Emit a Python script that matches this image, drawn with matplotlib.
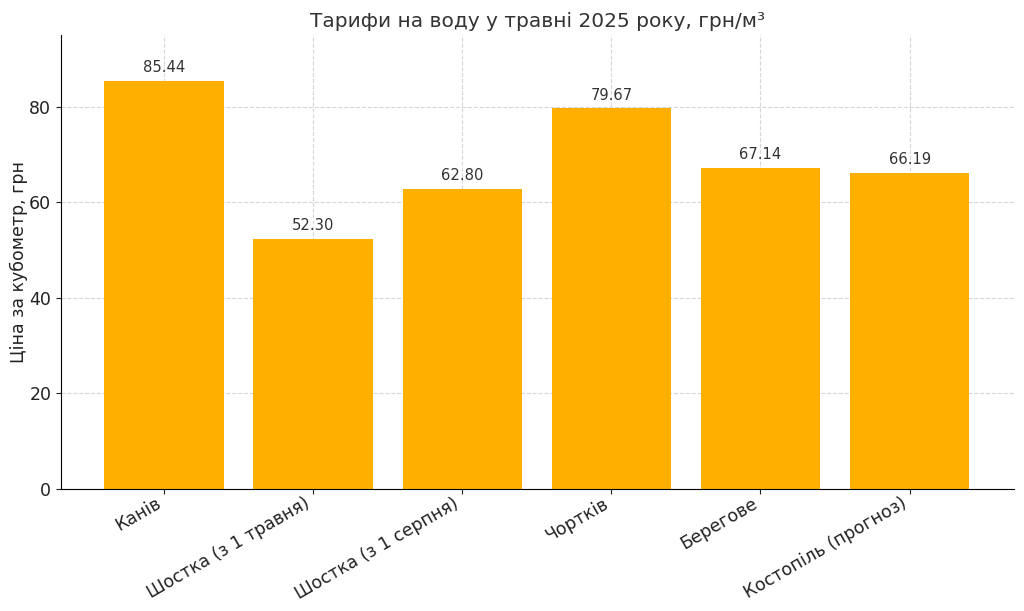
import matplotlib
matplotlib.use("Agg")
import matplotlib.pyplot as plt

categories = ["Канів", "Шостка (з 1 травня)", "Шостка (з 1 серпня)", "Чортків", "Берегове", "Костопіль (прогноз)"]
values = [85.44, 52.30, 62.80, 79.67, 67.14, 66.19]

plt.rcParams['font.family'] = ['DejaVu Sans']
fig = plt.figure(figsize=(10.24, 6.11), dpi=100)
ax = fig.add_axes([61/1024, 1 - 489/611, (1014-61)/1024, (489-35)/611])

x = list(range(len(categories)))
bars = ax.bar(x, values, width=0.8, color="#FFAF00", zorder=2)
for xi, v in zip(x, values):
    ax.text(xi, v + 1.2, f"{v:.2f}", ha="center", va="bottom", fontsize=10.6, color="#333333")

ax.set_xlim(-0.69, 5.70)
ax.set_ylim(0, 95)
ax.set_xticks(x)
ax.set_xticklabels(categories, rotation=30, ha="right", fontsize=12.5, color="#222222")
ax.set_yticks([0, 20, 40, 60, 80])
ax.tick_params(axis="y", labelsize=12.5, colors="#222222")
ax.tick_params(axis="x", colors="#222222", pad=0.5)
ax.set_ylabel("Ціна за кубометр, грн", fontsize=12.5, color="#222222", labelpad=1)
ax.set_title("Тарифи на воду у травні 2025 року, грн/м³", fontsize=14.5, color="#333333", pad=6)
ax.grid(True, linestyle="--", color="#cccccc", linewidth=0.8, alpha=0.8, zorder=0)
ax.spines["top"].set_visible(False)
ax.spines["right"].set_visible(False)
ax.set_axisbelow(True)

fig.savefig("out.png", dpi=100)
